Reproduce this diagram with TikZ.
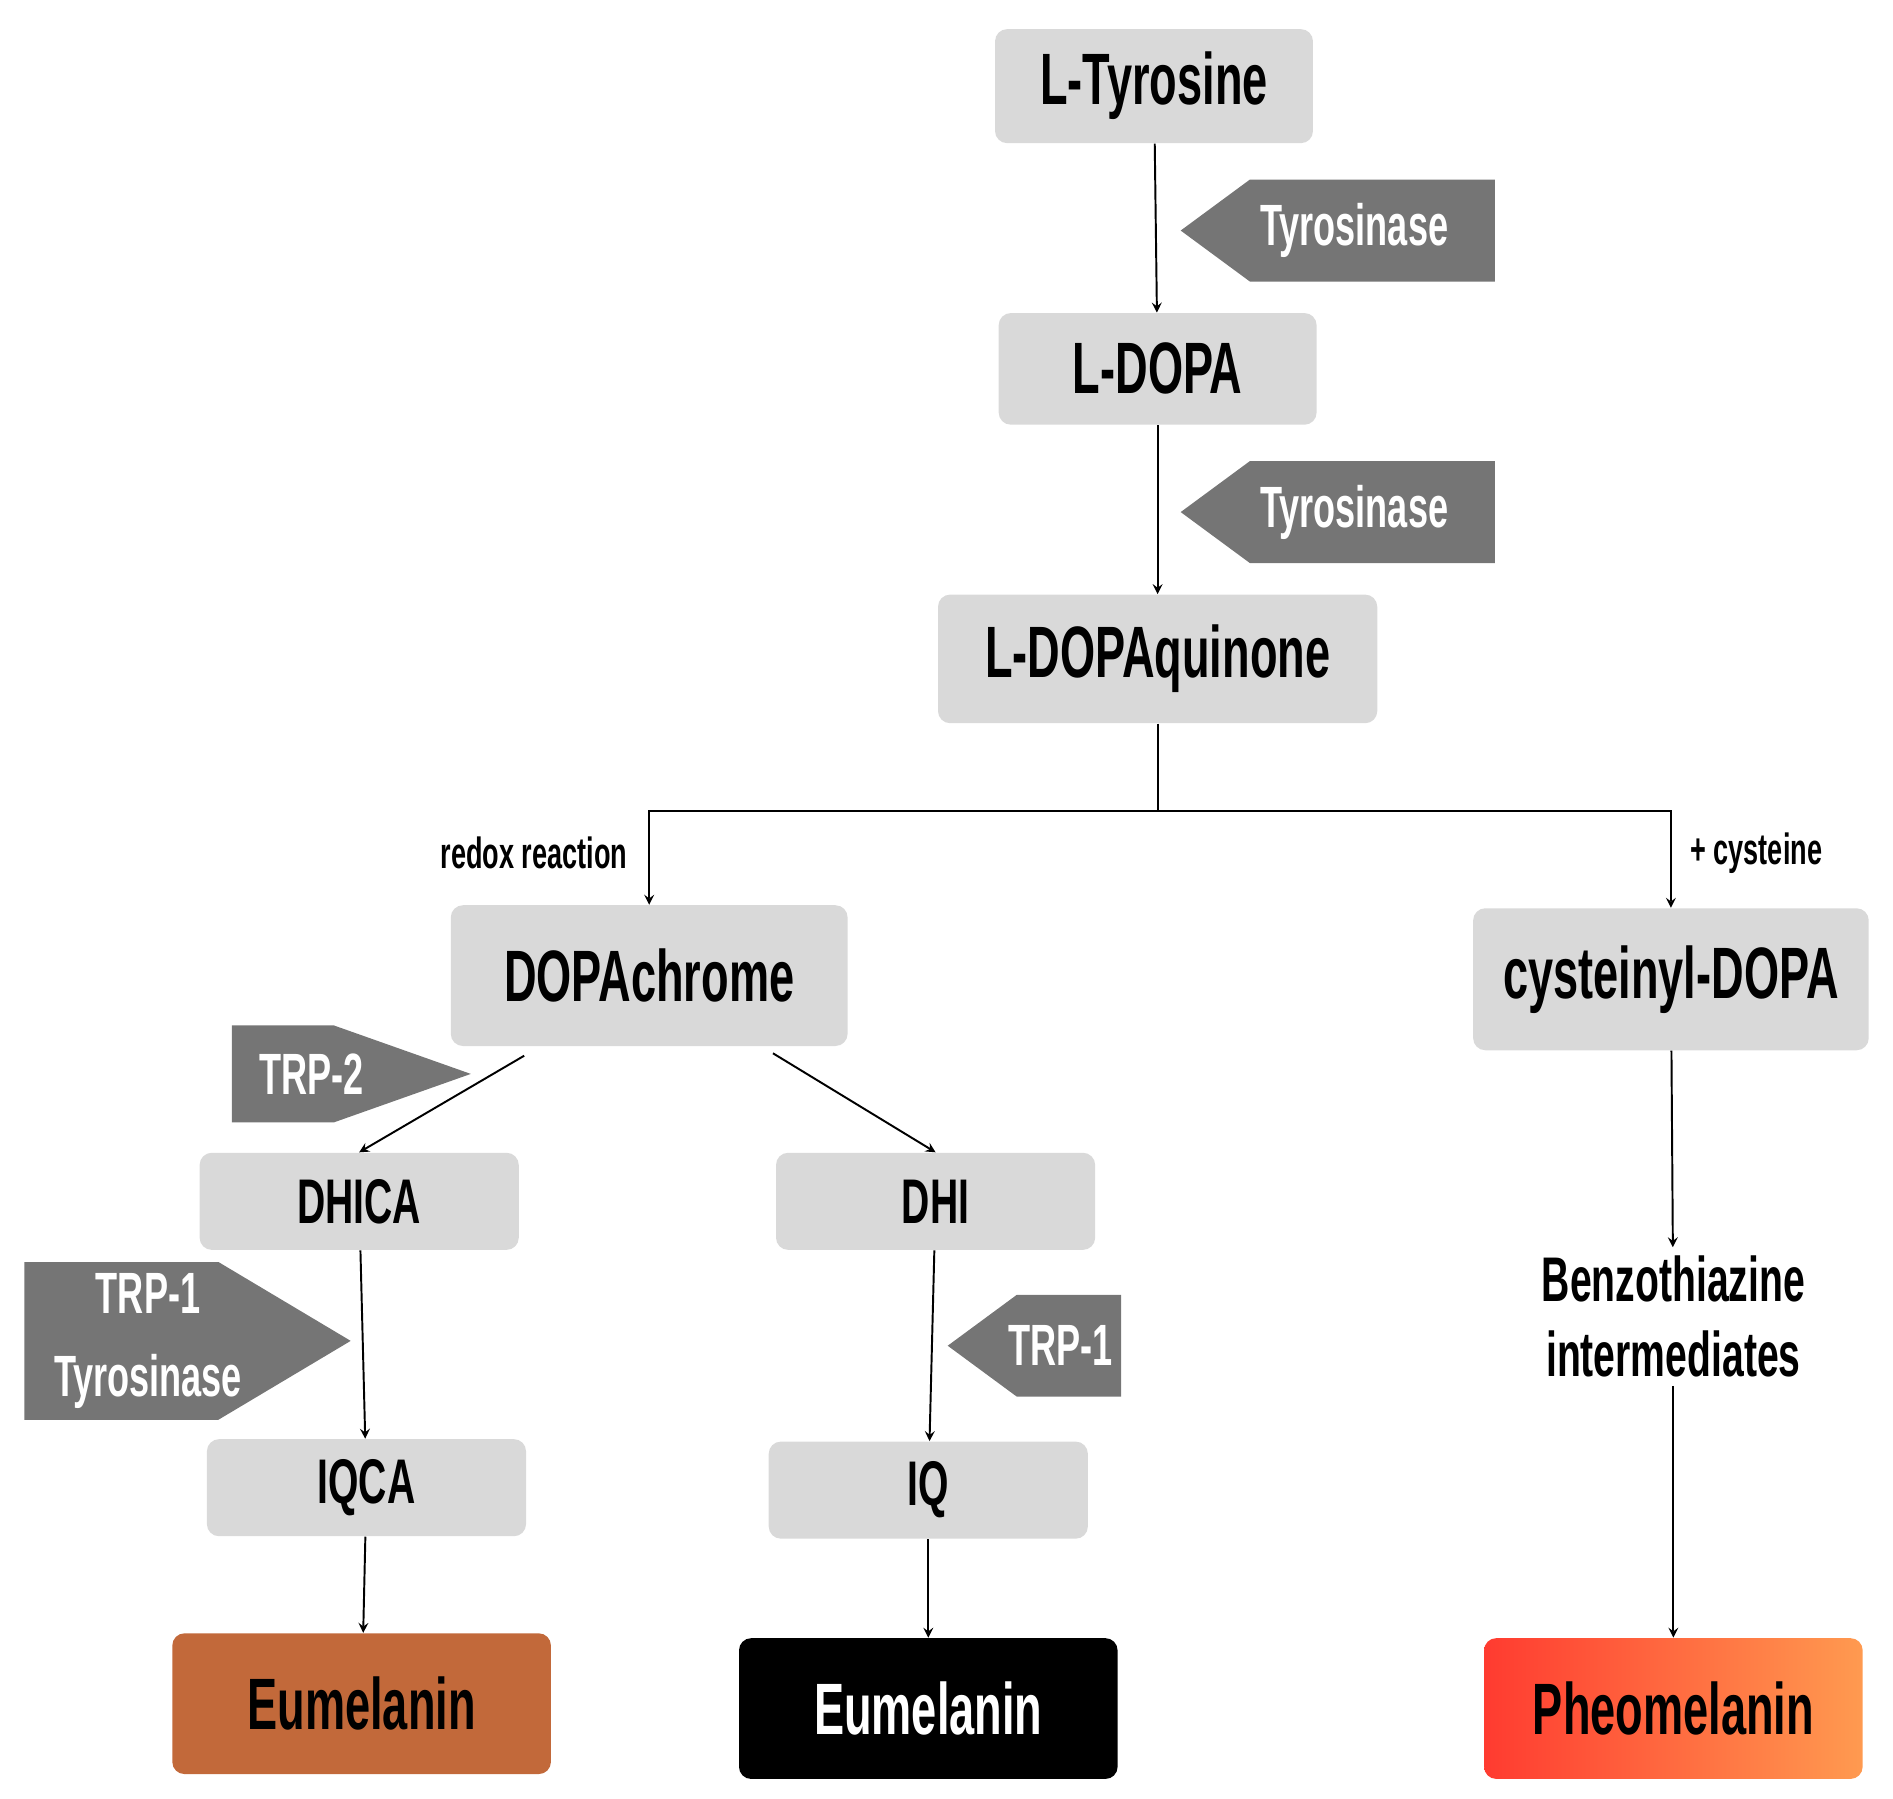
\documentclass[tikz,border=0pt]{standalone}
\usepackage{fontspec}
\setmainfont{Liberation Sans}[FakeStretch=0.62]
\usetikzlibrary{positioning}

\definecolor{boxgray}{HTML}{D9D9D9}
\definecolor{taggray}{HTML}{757575}
\definecolor{brownmel}{HTML}{C2693A}
\definecolor{pheoA}{HTML}{FF3B30}
\definecolor{pheoB}{HTML}{FF9A50}

\tikzset{
  stage/.style={fill=boxgray, rounded corners=5pt, inner sep=0, font=\bfseries\fontsize{30}{32}\selectfont},
  small/.style={stage, minimum width=131.5pt, minimum height=40pt, font=\bfseries\fontsize{26}{28}\selectfont},
  final/.style={rounded corners=5pt, inner sep=0, minimum width=156pt, minimum height=58pt, font=\bfseries\fontsize{30}{32}\selectfont},
  tag/.style={fill=taggray},
  tagtext/.style={text=white, font=\bfseries\fontsize{24}{26}\selectfont, align=center},
  note/.style={font=\bfseries\fontsize{18}{20}\selectfont},
  conn/.style={thick, ->, >=stealth},
}

\begin{document}
\begin{tikzpicture}[x=0.5pt, y=-0.5pt]
  \useasboundingbox (0,0) rectangle (1560,1482);

  % main chain
  \node [stage, minimum width=131pt, minimum height=47pt] (tyr) at (951,71) {L-Tyrosine};
  \node [stage, minimum width=131pt, minimum height=46pt] (dopa) at (954,304) {L-DOPA};
  \node [stage, minimum width=181pt, minimum height=53pt] (quin) at (954,543) {L-DOPAquinone};
  \node [stage, minimum width=163.5pt, minimum height=58pt] (chrome) at (535,804) {DOPAchrome};
  \node [stage, minimum width=163pt, minimum height=58.5pt] (cysdopa) at (1377,807) {cysteinyl-DOPA};

  \node [small] (dhica) at (296,990) {DHICA};
  \node [small] (dhi) at (771,990) {DHI};
  \node [small] (iqca) at (302,1226) {IQCA};
  \node [small] (iq) at (765,1228) {IQ};

  \node [final, fill=brownmel] (eubrown) at (298,1404) {Eumelanin};
  \node [final, fill=black, text=white] (eublack) at (765,1408) {Eumelanin};
  \node [final, left color=pheoA, right color=pheoB] (pheo) at (1379,1408) {Pheomelanin};
  \node [font=\bfseries\fontsize{26}{31}\selectfont, align=center] (benzo) at (1379,1085) {Benzothiazine\\intermediates};

  % enzyme tags
  \fill [tag] (973,190) -- (1030,148) -- (1232,148) -- (1232,232) -- (1030,232) -- cycle;
  \node [tagtext] (tyrase1) at (1116,190) {Tyrosinase};
  \fill [tag] (973,422) -- (1030,380) -- (1232,380) -- (1232,464) -- (1030,464) -- cycle;
  \node [tagtext] (tyrase2) at (1116,422) {Tyrosinase};
  \fill [tag] (191,845) -- (275,845) -- (388,885) -- (275,925) -- (191,925) -- cycle;
  \node [tagtext] (trp2) at (257,885) {TRP-2};
  \fill [tag] (20,1040) -- (180,1040) -- (289,1105) -- (180,1170) -- (20,1170) -- cycle;
  \node [tagtext, font=\bfseries\fontsize{24}{34}\selectfont] (trp1a) at (122,1105) {TRP-1\\Tyrosinase};
  \fill [tag] (781,1109) -- (838,1067) -- (924,1067) -- (924,1151) -- (838,1151) -- cycle;
  \node [tagtext] (trp1b) at (874,1109) {TRP-1};

  % connect
  \draw [conn] (tyr) -- (dopa);
  \draw [conn] (dopa) -- (quin);
  \coordinate (split) at (954,668);
  \draw [thick] (quin) -- (split);
  \draw [conn] (split) -| (chrome.north);
  \draw [conn] (split) -| (cysdopa.north);
  \node [note, anchor=east] (redox) at (524,703) {redox reaction};
  \node [note, anchor=west] (cys) at (1386,703) {+ cysteine};

  \draw [conn] (432,870) -- (dhica.north);
  \draw [conn] (637,868) -- (dhi.north);
  \draw [conn] (dhica) -- (iqca);
  \draw [conn] (dhi) -- (iq);
  \draw [conn] (iqca) -- (eubrown);
  \draw [conn] (iq) -- (eublack);
  \draw [conn] (cysdopa) -- (benzo);
  \draw [conn] (benzo) -- (pheo);
\end{tikzpicture}
\end{document}
